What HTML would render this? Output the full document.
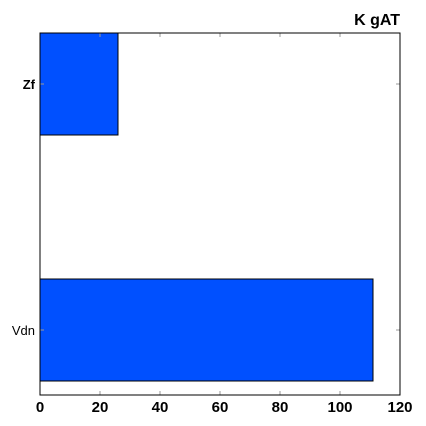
<!DOCTYPE html>
<html><head><meta charset="utf-8"><style>
html,body{margin:0;padding:0;background:#fff;}
svg{display:block;font-family:"Liberation Sans",sans-serif;}
</style></head><body>
<svg id="chart" width="426" height="426">
<text x="400" y="25" text-anchor="end" font-size="16" font-weight="bold">K gAT</text>
<g id="plot"></g>
</svg>
<script>
const categories = ["Vdn", "Zf"];
const values = [111, 26];
const xTicks = [0, 20, 40, 60, 80, 100, 120];
const labelBold = [false, true];

const L = 40, R = 400, T = 33, B = 395;
const xMin = 0, xMax = 120;
const x = v => L + (v - xMin) / (xMax - xMin) * (R - L);
const y = i => 330 - i * 246;
const bh = 102;
const NS = "http://www.w3.org/2000/svg";
const g = document.getElementById("plot");
function mk(tag, attrs) { const e = document.createElementNS(NS, tag); for (const k in attrs) e.setAttribute(k, attrs[k]); g.appendChild(e); return e; }

categories.forEach((c, i) => {
  const r = mk("rect", {x: x(0), y: y(i) - bh / 2, width: x(values[i]) - x(0), height: bh, fill: "#0050ff", stroke: "#000", "stroke-width": 1});
  
  
  const t = mk("text", {x: L - 5, y: y(i) + 5, "text-anchor": "end", "font-size": 13, "font-weight": labelBold[i] ? "bold" : "normal"});
  t.textContent = c;
  
  
  mk("line", {x1: L, x2: L + 4, y1: y(i), y2: y(i), stroke: "#999"});
  mk("line", {x1: R, x2: R - 4, y1: y(i), y2: y(i), stroke: "#999"});
});
xTicks.forEach(v => {
  mk("line", {x1: x(v), x2: x(v), y1: B, y2: B - 4, stroke: "#999"});
  mk("line", {x1: x(v), x2: x(v), y1: T, y2: T + 4, stroke: "#999"});
  const t = mk("text", {x: x(v), y: B + 17, "text-anchor": "middle", "font-size": 15, "font-weight": "bold"});
  t.textContent = v;
  
  
});
const f = mk("rect", {x: L, y: T, width: R - L, height: B - T, fill: "none", stroke: "#000", "stroke-width": 1});


</script>
</body></html>
